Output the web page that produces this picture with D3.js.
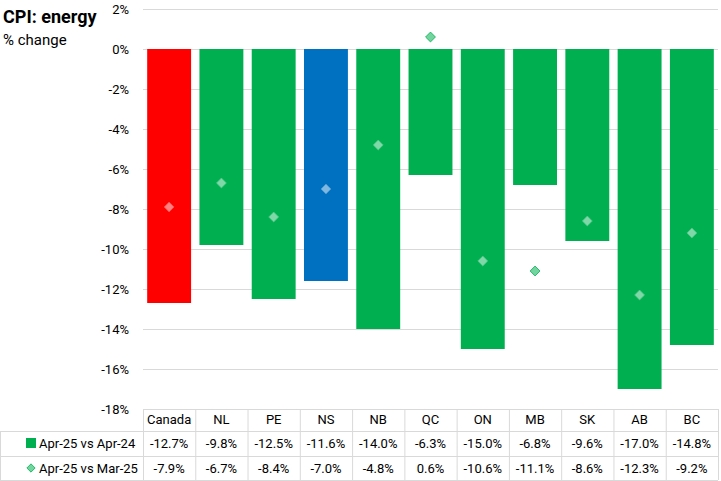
<!DOCTYPE html>
<html>
<head>
<meta charset="utf-8">
<script src="https://cdn.jsdelivr.net/npm/d3@7"></script>
<style>
  body { margin: 0; background: #fff; }
  svg { display: block; font-family: Roboto, "Liberation Sans", sans-serif; }
</style>
</head>
<body>
<div id="chart"></div>
<script>
// Chart data
const categories = ['Canada', 'NL', 'PE', 'NS', 'NB', 'QC', 'ON', 'MB', 'SK', 'AB', 'BC'];
const yearly = [-12.7, -9.8, -12.5, -11.6, -14.0, -6.3, -15.0, -6.8, -9.6, -17.0, -14.8];
const monthly = [-7.9, -6.7, -8.4, -7.0, -4.8, 0.6, -10.6, -11.1, -8.6, -12.3, -9.2];
const seriesNames = ['Apr-25 vs Apr-24', 'Apr-25 vs Mar-25'];
const yTicks = [2, 0, -2, -4, -6, -8, -10, -12, -14, -16, -18];

const width = 721, height = 481;
const green = '#00b050';
const barColor = c => c === 'Canada' ? '#ff0000' : (c === 'NS' ? '#0070c0' : green);
const gridColor = '#d9d9d9';
const fontSize = '13px';

const svg = d3.select('#chart')
    .append('svg')
    .attr('width', width)
    .attr('height', height);

const plot = { left: 143, right: 718, top: 9, bottom: 409 };

const x = d3.scaleBand()
    .domain(categories)
    .range([plot.left, plot.right])
    .paddingInner(0.16)
    .paddingOuter(0.08);

const y = d3.scaleLinear()
    .domain([-18, 2])
    .range([plot.bottom, plot.top]);

const step = x.step();
const colLeft = c => x(c) - step * 0.08;

// Title
svg.append('text')
    .attr('x', 3).attr('y', 23)
    .style('font-size', '18px')
    .style('font-weight', 'bold')
    .text('CPI: energy');
svg.append('text')
    .attr('x', 3).attr('y', 45)
    .style('font-size', '15px')
    .text('% change');

// Gridlines
svg.append('g')
    .selectAll('line')
    .data(yTicks)
    .enter()
    .append('line')
    .attr('x1', plot.left)
    .attr('x2', plot.right)
    .attr('y1', d => y(d) + 0.5)
    .attr('y2', d => y(d) + 0.5)
    .attr('stroke', gridColor);

// Y axis labels
const yAxis = svg.append('g')
    .attr('transform', `translate(${plot.left - 14},0)`)
    .call(d3.axisLeft(y).tickValues(yTicks).tickSize(0).tickPadding(0).tickFormat(d => d + '%'));
yAxis.select('.domain').remove();
yAxis.selectAll('text')
    .style('font-size', fontSize)
    .style('font-family', 'Roboto, "Liberation Sans", sans-serif')
    .attr('fill', '#000');

// Bars
svg.append('g')
    .selectAll('rect')
    .data(categories)
    .enter()
    .append('rect')
    .attr('x', d => x(d))
    .attr('width', x.bandwidth())
    .attr('y', y(0))
    .attr('height', (d, i) => y(yearly[i]) - y(0))
    .attr('fill', d => barColor(d));

// Diamonds
const diamond = d3.symbol().type(d3.symbolDiamond2).size(62);
svg.append('g')
    .selectAll('path')
    .data(categories)
    .enter()
    .append('path')
    .attr('d', diamond)
    .attr('transform', (d, i) => `translate(${x(d) + x.bandwidth() / 2},${y(monthly[i])})`)
    .attr('fill', (d, i) => {
        const inside = monthly[i] < 0 && monthly[i] > yearly[i];
        return inside ? d3.interpolateRgb(barColor(d), '#fff')(0.5) : d3.interpolateRgb(green, '#fff')(0.45);
    })
    .attr('stroke', (d, i) => {
        const inside = monthly[i] < 0 && monthly[i] > yearly[i];
        return inside ? d3.interpolateRgb(barColor(d), '#fff')(0.3) : green;
    })
    .attr('stroke-width', 0.8);

// Data table
const rows = { top: 409, r1: 431, r2: 456, bottom: 480 };
const table = svg.append('g');

// horizontal lines
[[plot.left, rows.top], [0, rows.r1], [0, rows.r2], [0, rows.bottom]].forEach(([x0, yy]) => {
    table.append('line')
        .attr('x1', x0).attr('x2', plot.right)
        .attr('y1', yy + 0.5).attr('y2', yy + 0.5)
        .attr('stroke', gridColor);
});
// vertical lines
table.selectAll('.vline')
    .data(categories.concat(['end']))
    .enter()
    .append('line')
    .attr('class', 'vline')
    .attr('x1', d => (d === 'end' ? plot.right : colLeft(d)) + 0.5)
    .attr('x2', d => (d === 'end' ? plot.right : colLeft(d)) + 0.5)
    .attr('y1', rows.top)
    .attr('y2', rows.bottom)
    .attr('stroke', gridColor);
table.append('line')
    .attr('x1', 0.5).attr('x2', 0.5)
    .attr('y1', rows.r1).attr('y2', rows.bottom)
    .attr('stroke', gridColor);

const fmt = v => v.toFixed(1) + '%';
const cellText = (vals, yy) => {
    table.append('g')
        .selectAll('text')
        .data(categories)
        .enter()
        .append('text')
        .attr('x', d => x(d) + x.bandwidth() / 2)
        .attr('y', yy)
        .attr('text-anchor', 'middle')
        .style('font-size', fontSize)
        .text((d, i) => vals[i]);
};
cellText(categories, 424);
cellText(yearly.map(fmt), 448);
cellText(monthly.map(fmt), 473);

// Legend keys
table.append('rect')
    .attr('x', 26).attr('y', 438)
    .attr('width', 10).attr('height', 10)
    .attr('fill', green);
table.append('path')
    .attr('d', d3.symbol().type(d3.symbolDiamond2).size(44))
    .attr('transform', 'translate(31,468)')
    .attr('fill', d3.interpolateRgb(green, '#fff')(0.45))
    .attr('stroke', green)
    .attr('stroke-width', 0.8);
seriesNames.forEach((name, i) => {
    table.append('text')
        .attr('x', 39)
        .attr('y', i === 0 ? 448 : 473)
        .style('font-size', fontSize)
        .text(name);
});
</script>
</body>
</html>
